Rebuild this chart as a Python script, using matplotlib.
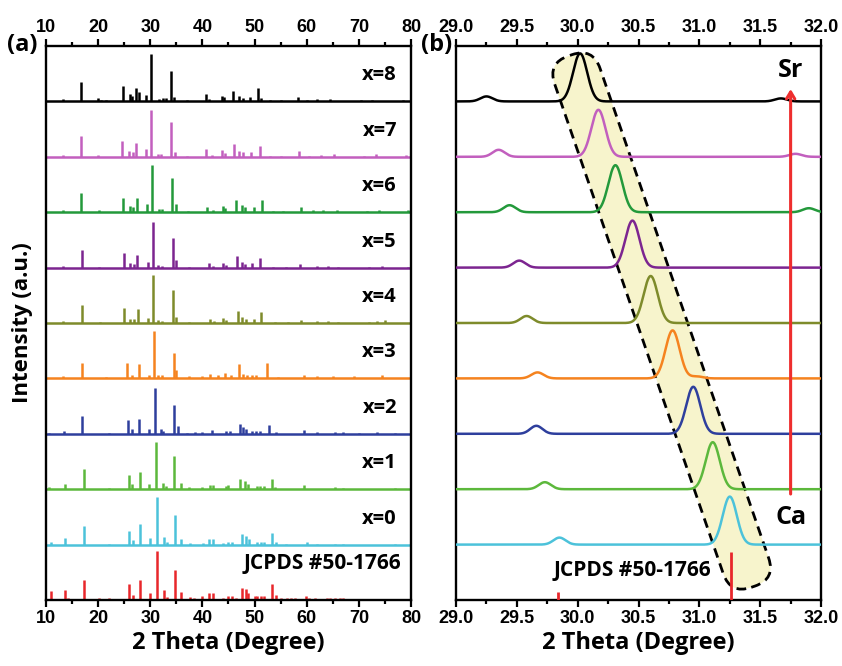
import matplotlib.pyplot as plt
import matplotlib.patches as mpatches
import matplotlib.transforms as mtransforms
import numpy as np
from matplotlib.ticker import MultipleLocator, FormatStrFormatter

plt.rcParams['font.family'] = ['Liberation Sans', 'DejaVu Sans']
plt.rcParams['font.weight'] = 'bold'
plt.rcParams['axes.linewidth'] = 1.7
label_font = ['Open Sans', 'DejaVu Sans']

labels = ['JCPDS #50-1766', 'x=0', 'x=1', 'x=2', 'x=3', 'x=4', 'x=5', 'x=6', 'x=7', 'x=8']
colors = ['#e8272b', '#4cc2da', '#5cb83c', '#2e3f9d', '#f5831f', '#7e8b2b',
          '#7c2590', '#23993b', '#c25fbe', '#000000']

# (a) peak positions (2 theta) and intensities (a.u.), one list per pattern
pk_jcpds = [11.0, 13.7, 14.2, 17.2, 20.2, 22.1, 26.0, 26.6, 28.0, 29.9, 31.3, 32.7, 33.3, 34.7, 35.9,
            37.6, 38.3, 40.0, 41.3, 42.0, 43.9, 45.0, 45.7, 46.5, 47.5, 48.4, 48.8, 50.0, 50.5, 51.3,
            51.8, 53.4, 54.2, 55.0, 56.2, 57.0, 57.7, 59.8, 60.5, 61.5, 63.9, 64.5, 65.5, 66.3, 67.0]
in_jcpds = [9, 10, 2, 20, 2, 2, 16, 5, 20, 7, 49, 10, 3, 30, 8, 3, 2, 4, 7, 7, 2, 4, 4, 2, 12, 11, 7,
            4, 4, 4, 4, 16, 5, 2, 2, 2, 2, 4, 2, 2, 2, 2, 2, 2, 2]
pk_x0 = [11.0, 13.7, 17.2, 22.1, 26.0, 26.6, 28.0, 29.9, 31.25, 32.7, 33.3, 34.7, 35.9, 37.6, 40.2,
         41.3, 42.0, 43.9, 45.0, 45.7, 47.5, 48.4, 48.9, 50.5, 51.2, 51.9, 53.4, 54.2, 56.0, 60.0,
         62.0, 65.5, 67.0, 77.0]
in_x0 = [3, 7, 19, 1, 14, 5, 21, 7, 48, 8, 3, 30, 6, 2, 2, 6, 6, 2, 3, 3, 11, 9, 6, 3, 3, 3, 12, 3,
         1, 3, 1, 1, 1, 1]
pk_x1 = [10.5, 13.7, 17.2, 22.0, 26.0, 26.5, 28.0, 29.8, 31.1, 32.5, 33.0, 34.5, 35.8, 37.5, 40.0,
         41.5, 42.0, 44.5, 45.0, 47.2, 48.2, 48.8, 50.5, 51.0, 51.8, 53.3, 54.0, 59.5, 65.5, 67.0, 77.0]
in_x1 = [2, 5, 20, 1, 14, 5, 17, 5, 47, 6, 3, 33, 6, 2, 2, 4, 4, 3, 4, 10, 8, 5, 3, 3, 3, 10, 2, 4,
         2, 1, 1]
pk_x2 = [10.5, 13.5, 17.0, 22.0, 25.7, 26.5, 27.9, 29.8, 30.95, 32.0, 32.5, 34.5, 35.3, 37.0, 38.5,
         40.0, 41.8, 44.5, 45.2, 47.2, 47.8, 48.3, 49.5, 50.2, 51.0, 52.8, 54.2, 59.5, 62.0, 65.5,
         67.0, 70.0, 73.5, 77.0]
in_x2 = [1, 3, 18, 1, 14, 5, 15, 5, 46, 5, 3, 29, 8, 1, 2, 2, 4, 3, 3, 10, 7, 5, 3, 3, 3, 9, 2, 4,
         2, 2, 2, 1, 2, 1]
pk_x3 = [13.3, 17.0, 21.5, 25.5, 26.5, 27.8, 29.7, 30.8, 31.5, 32.2, 34.5, 35.0, 37.5, 40.0, 41.5,
         43.0, 44.3, 45.5, 47.0, 47.8, 48.5, 49.5, 50.2, 52.3, 54.5, 59.5, 62.0, 65.0, 69.0, 74.5]
in_x3 = [2, 15, 1, 15, 3, 14, 3, 47, 3, 3, 25, 8, 2, 2, 4, 3, 5, 3, 14, 4, 3, 3, 3, 15, 1, 3, 2, 2,
         2, 3]
pk_x4 = [13.3, 17.0, 20.3, 25.0, 26.2, 26.8, 27.6, 29.6, 30.6, 31.5, 32.2, 34.4, 34.9, 37.5, 41.5,
         42.3, 43.9, 44.5, 46.8, 47.5, 48.3, 49.8, 51.2, 54.0, 56.5, 59.0, 62.0, 64.0, 66.0, 72.0,
         73.5, 75.0]
in_x4 = [2, 18, 1, 15, 4, 4, 14, 5, 48, 3, 2, 33, 6, 1, 4, 2, 5, 3, 12, 6, 4, 4, 11, 1, 1, 3, 2, 2,
         1, 1, 2, 3]
pk_x5 = [13.3, 17.0, 20.2, 24.9, 26.2, 26.8, 27.5, 29.5, 30.45, 31.5, 32.3, 34.3, 34.9, 37.5, 41.2,
         42.0, 43.9, 44.5, 46.6, 47.5, 48.1, 49.6, 51.0, 53.5, 56.0, 58.8, 62.0, 64.0, 66.0, 72.0,
         74.5, 79.5]
in_x5 = [2, 18, 1, 15, 5, 4, 13, 6, 46, 3, 2, 30, 8, 1, 5, 2, 5, 3, 12, 6, 4, 5, 10, 1, 1, 4, 2, 2,
         1, 1, 2, 1]
pk_x6 = [13.2, 16.8, 20.1, 24.8, 26.2, 26.7, 27.4, 29.3, 30.35, 31.6, 32.2, 34.2, 34.9, 37.2, 40.8,
         42.1, 44.0, 44.4, 46.4, 47.6, 48.2, 49.9, 51.4, 53.5, 55.5, 58.9, 61.3, 63.2, 65.8, 71.5,
         73.8, 79.5]
in_x6 = [2, 19, 2, 14, 6, 5, 14, 8, 47, 3, 3, 34, 8, 1, 5, 2, 6, 4, 12, 7, 5, 5, 12, 1, 1, 5, 2, 2,
         2, 1, 2, 2]
pk_x7 = [13.2, 16.7, 20.0, 24.6, 26.0, 26.6, 27.2, 29.1, 30.2, 31.5, 32.0, 34.05, 34.8, 37.0, 40.6,
         41.8, 43.8, 44.3, 46.1, 47.0, 47.7, 49.4, 51.0, 53.0, 55.0, 58.5, 60.5, 62.7, 65.3, 71.0,
         73.2, 79.0]
in_x7 = [2, 21, 2, 16, 6, 5, 14, 8, 47, 3, 3, 35, 5, 1, 8, 2, 7, 4, 13, 6, 5, 5, 11, 1, 1, 6, 1, 2,
         3, 1, 3, 2]
pk_x8 = [13.2, 16.8, 19.9, 20.5, 21.5, 24.8, 26.1, 26.5, 27.3, 27.9, 29.2, 30.05, 31.7, 32.5, 33.1,
         34.0, 34.6, 37.0, 40.6, 41.3, 43.7, 44.2, 45.9, 47.1, 47.7, 49.2, 50.7, 51.3, 53.0, 55.0,
         58.3, 60.0, 62.0, 64.5, 70.5, 72.5, 78.5]
in_x8 = [2, 19, 3, 1, 1, 15, 7, 5, 13, 9, 6, 47, 2, 3, 3, 30, 4, 1, 7, 2, 5, 4, 10, 5, 3, 4, 13, 3,
         1, 1, 4, 1, 2, 2, 1, 1, 1]

left_pos = [pk_jcpds, pk_x0, pk_x1, pk_x2, pk_x3, pk_x4, pk_x5, pk_x6, pk_x7, pk_x8]
left_int = [in_jcpds, in_x0, in_x1, in_x2, in_x3, in_x4, in_x5, in_x6, in_x7, in_x8]

# (b) zoom around the main reflection, x=0 ... x=8
r_main_pos = [31.25, 31.11, 30.95, 30.78, 30.60, 30.45, 30.31, 30.17, 30.02]
r_main_int = [48, 47, 47, 48, 47, 47, 47, 47, 48]
r_side_pos = [29.85, 29.73, 29.66, 29.67, 29.58, 29.52, 29.44, 29.35, 29.25]
r_side_int = [7, 7, 8, 6, 7, 7, 7, 7, 5]
r_tail_pos = [31.60, 31.60, 31.60, 30.98, 31.60, 31.60, 31.90, 31.79, 31.67]
r_tail_int = [0, 0, 0, 2, 0, 0, 4, 3, 3]
r_jcpds_pos = [29.84, 31.26]
r_jcpds_int = [8, 48]

step = 55.4  # vertical offset between stacked patterns

fig = plt.figure(figsize=(8.42, 6.66), dpi=100)
ax1 = fig.add_axes([0.0546, 0.0991, 0.4335, 0.8318])
ax2 = fig.add_axes([0.5416, 0.0991, 0.4335, 0.8318])

# panel (a)
for i, (pos, inten, c) in enumerate(zip(left_pos, left_int, colors)):
    y0 = i * step
    if i > 0:
        ax1.hlines(y0, 10, 80, color=c, lw=1.8)
        ax1.text(74, y0 + 26, labels[i], ha='center', va='center', fontsize=14.5,
                 family=label_font, weight='bold')
    else:
        ax1.text(63.0, y0 + 37, labels[i], ha='center', va='center', fontsize=15,
                 family=label_font, weight='bold')
    ax1.vlines(pos, y0, y0 + np.array(inten), color=c, lw=1.8)

ax1.set_xlim(10, 80)
ax1.xaxis.set_major_locator(MultipleLocator(10))
ax1.xaxis.set_minor_locator(MultipleLocator(5))
ax1.set_ylabel('Intensity (a.u.)', fontsize=16, family=label_font, weight='bold', labelpad=9)

# panel (b)
tt = np.linspace(29, 32, 1501)
for k in range(9):
    y0 = (k + 1) * step
    prof = (y0 + r_main_int[k] * np.exp(-(tt - r_main_pos[k]) ** 2 / (2 * 0.058 ** 2))
            + r_side_int[k] * np.exp(-(tt - r_side_pos[k]) ** 2 / (2 * 0.05 ** 2))
            + r_tail_int[k] * np.exp(-(tt - r_tail_pos[k]) ** 2 / (2 * 0.05 ** 2)))
    ax2.plot(tt, prof, color=colors[k + 1], lw=1.8, zorder=3)
ax2.vlines(r_jcpds_pos, 0, r_jcpds_int, color=colors[0], lw=2, zorder=3)

band = mpatches.FancyBboxPatch((-24, -281), 48, 562, boxstyle='round,pad=0,rounding_size=22',
                               fc='#f7f4cc', ec='black', lw=2, ls=(0, (3.5, 2.2)), zorder=1)
band.set_transform(mtransforms.Affine2D().rotate_deg(19)
                   + mtransforms.ScaledTranslation(30.69, 279, ax2.transData))
ax2.add_patch(band)

ax2.annotate('', xy=(31.75, 511), xytext=(31.75, 106),
             arrowprops=dict(arrowstyle='->,head_length=0.5,head_width=0.3', color='#ee2e2e',
                             lw=2.2, shrinkA=0, shrinkB=0), zorder=4)
ax2.text(31.75, 530, 'Sr', ha='center', va='center', fontsize=18, family=label_font, weight='bold')
ax2.text(31.75, 83, 'Ca', ha='center', va='center', fontsize=18, family=label_font, weight='bold')
ax2.text(30.45, 30, labels[0], ha='center', va='center', fontsize=15,
         family=label_font, weight='bold')

ax2.set_xlim(29, 32)
ax2.xaxis.set_major_locator(MultipleLocator(0.5))
ax2.xaxis.set_minor_locator(MultipleLocator(0.25))
ax2.xaxis.set_major_formatter(FormatStrFormatter('%.1f'))

for ax in (ax1, ax2):
    ax.set_ylim(0, 10 * step)
    ax.set_yticks([])
    ax.tick_params(axis='x', which='both', direction='out', top=True, labeltop=True,
                   width=1.6, labelsize=13, pad=2)
    ax.tick_params(axis='x', which='major', length=5)
    ax.tick_params(axis='x', which='minor', length=3)
    ax.set_xlabel('2 Theta (Degree)', fontsize=17, family=label_font, weight='bold', labelpad=3)

fig.text(22 / 842, 1 - 45 / 666, '(a)', ha='center', va='center', fontsize=17,
         family=label_font, weight='bold')
fig.text(437 / 842, 1 - 45 / 666, '(b)', ha='center', va='center', fontsize=17,
         family=label_font, weight='bold')

fig.savefig('out.png', dpi=100)
